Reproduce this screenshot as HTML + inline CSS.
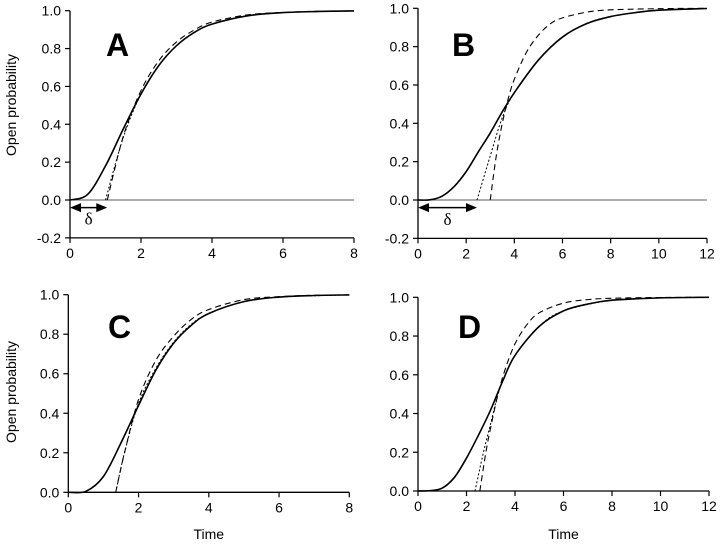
<!DOCTYPE html>
<html><head><meta charset="utf-8">
<style>
body{margin:0;background:#fff;}
svg{display:block;font-family:"Liberation Sans",sans-serif;}
</style></head>
<body>
<svg id="fig" width="720" height="544" viewBox="0 0 720 544"></svg>
<script>
// Panel A data
const aSolidT=[0,0.5,1,1.5,2,2.5,3,3.5,4,5,6,7,8];
const aSolidY=[0,0.03,0.18,0.375,0.56,0.71,0.815,0.885,0.929,0.973,0.99,0.996,0.999];
const aDashT=[1.05,1.5,2,2.5,3,3.5,4,5,6,7,8];
const aDashY=[0,0.336,0.578,0.735,0.835,0.898,0.94,0.978,0.991,0.997,0.999];
const aDotT=[1.0,1.5,2,2.5,3,3.5,4,5,6,8];
const aDotY=[0,0.33,0.56,0.71,0.815,0.885,0.929,0.973,0.99,0.999];
// Panel B data
const bSolidT=[0,0.5,1,1.5,2,2.5,3,3.5,4,5,6,7,8,9,10,12];
const bSolidY=[0,0.001,0.02,0.07,0.148,0.25,0.35,0.46,0.56,0.73,0.85,0.92,0.957,0.977,0.99,0.999];
const bDashT=[3.0,3.25,3.5,3.75,4,4.5,5,5.5,6,7,8,10,12];
const bDashY=[0,0.23,0.4,0.53,0.63,0.77,0.86,0.92,0.95,0.98,0.992,0.998,1];
const bDotT=[2.45,3,3.5,4,5,6,7,8,10,12];
const bDotY=[0,0.23,0.43,0.56,0.73,0.85,0.92,0.957,0.99,0.999];
// Panel C data
const cSolidT=[0,0.5,1,1.5,2,2.5,3,3.5,4,5,6,7,8];
const cSolidY=[0,0.005,0.08,0.25,0.44,0.62,0.755,0.845,0.905,0.965,0.988,0.996,0.999];
const cDashT=[1.35,1.6,2,2.5,3,3.5,4,5,6,7,8];
const cDashY=[0,0.2,0.47,0.67,0.79,0.875,0.925,0.975,0.99,0.997,0.999];
const cDotT=[1.35,1.6,2,2.5,3,3.5,4,5,6,8];
const cDotY=[0,0.2,0.45,0.63,0.76,0.85,0.905,0.965,0.988,0.999];
// Panel D data
const dSolidT=[0,0.5,1,1.5,2,2.5,3,3.5,4,5,6,7,8,10,12];
const dSolidY=[0,0.002,0.015,0.07,0.17,0.29,0.42,0.57,0.7,0.85,0.93,0.965,0.985,0.997,1];
const dDashT=[2.55,2.8,3,3.3,3.6,4,4.5,5,6,7,8,10,12];
const dDashY=[0,0.2,0.33,0.5,0.63,0.76,0.86,0.92,0.97,0.988,0.995,0.999,1];
const dDotT=[2.35,2.7,3,3.3,3.6,4,5,6,8,10,12];
const dDotY=[0,0.2,0.35,0.5,0.6,0.7,0.85,0.93,0.985,0.997,1];
// tick labels
const yTicksAB=[-0.2,0,0.2,0.4,0.6,0.8,1.0];
const yTicksCD=[0,0.2,0.4,0.6,0.8,1.0];
const xTicks8=[0,2,4,6,8];
const xTicks12=[0,2,4,6,8,10,12];

const NS="http://www.w3.org/2000/svg";
const svg=document.getElementById('fig');
function mk(tag,attrs,parent){const e=document.createElementNS(NS,tag);for(const k in attrs)e.setAttribute(k,attrs[k]);(parent||svg).appendChild(e);return e;}
function smooth(pts){
  let d='M'+pts[0][0].toFixed(2)+','+pts[0][1].toFixed(2);
  for(let i=0;i<pts.length-1;i++){
    const p0=pts[Math.max(0,i-1)],p1=pts[i],p2=pts[i+1],p3=pts[Math.min(pts.length-1,i+2)];
    const c1x=p1[0]+(p2[0]-p0[0])/6,c1y=p1[1]+(p2[1]-p0[1])/6;
    const c2x=p2[0]-(p3[0]-p1[0])/6,c2y=p2[1]-(p3[1]-p1[1])/6;
    d+=' C'+c1x.toFixed(2)+','+c1y.toFixed(2)+' '+c2x.toFixed(2)+','+c2y.toFixed(2)+' '+p2[0].toFixed(2)+','+p2[1].toFixed(2);
  }
  return d;
}
function panel(cfg){
  const g=mk('g',{});
  
  
  const sx=t=>cfg.x0+(t/cfg.xmax)*(cfg.x1-cfg.x0);
  const sy=v=>cfg.y0+(v)*(cfg.y1-cfg.y0);
  const ymin=cfg.yticks[0];
  const axisY=sy(ymin);
  if(ymin<0){
    const z=mk('line',{x1:sx(0),x2:sx(cfg.xmax),y1:sy(0),y2:sy(0),stroke:'#222','stroke-width':0.7},g);
    
    
  }
  const ya=mk('line',{x1:sx(0),x2:sx(0),y1:sy(1),y2:axisY,stroke:'#000','stroke-width':1.3},g);
  
  
  const xa=mk('line',{x1:sx(0),x2:sx(cfg.xmax),y1:axisY,y2:axisY,stroke:'#000','stroke-width':1.3},g);
  
  
  cfg.yticks.forEach(v=>{
    mk('line',{x1:sx(0)-5,x2:sx(0),y1:sy(v),y2:sy(v),stroke:'#000','stroke-width':1.2},g);
    const t=mk('text',{x:sx(0)-9,y:sy(v)+5,'text-anchor':'end','font-size':14},g);
    t.textContent=v.toFixed(1);
    
    
  });
  cfg.xticks.forEach(v=>{
    mk('line',{x1:sx(v),x2:sx(v),y1:axisY,y2:axisY+5,stroke:'#000','stroke-width':1.2},g);
    const t=mk('text',{x:sx(v),y:axisY+20,'text-anchor':'middle','font-size':14},g);
    t.textContent=v;
    
    
  });
  const series=[[cfg.dotT,cfg.dotY,'2,2',1,'dotted-curve'],[cfg.dashT,cfg.dashY,'6,4',1.1,'dashed-curve'],[cfg.solidT,cfg.solidY,null,1.6,'solid-curve']];
  series.forEach(s=>{
    const pts=s[0].map((t,i)=>[sx(t),sy(s[1][i])]);
    const a={d:smooth(pts),fill:'none',stroke:'#000','stroke-width':s[3]};
    if(s[2])a['stroke-dasharray']=s[2];
    const p=mk('path',a,g);
    
    
  });
  const L=mk('text',{x:cfg.lx,y:cfg.ly,'font-size':32,'font-weight':'bold'},g);
  L.textContent=cfg.id;
  
  
  if(cfg.ylab){
    const yl=mk('text',{x:0,y:0,'font-size':14,'text-anchor':'middle',transform:'translate(16,'+cfg.ylab+') rotate(-90)'},g);
    yl.textContent='Open probability';
    
    
  }
  if(cfg.xlab){
    const xl=mk('text',{x:(cfg.x0+cfg.x1)/2,y:539,'font-size':14,'text-anchor':'middle'},g);
    xl.textContent='Time';
    
    
  }
  if(cfg.delta!=null){
    const yy=sy(-0.04);
    const ar=mk('g',{},g);
    
    
    const xa0=sx(0),xa1=sx(cfg.delta);
    mk('line',{x1:xa0+8,x2:xa1-8,y1:yy,y2:yy,stroke:'#000','stroke-width':1.5},ar);
    mk('polygon',{points:`${xa0},${yy} ${xa0+11},${yy-4.5} ${xa0+11},${yy+4.5}`,fill:'#000'},ar);
    mk('polygon',{points:`${xa1},${yy} ${xa1-11},${yy-4.5} ${xa1-11},${yy+4.5}`,fill:'#000'},ar);
    const dl=mk('text',{x:(xa0+xa1)/2,y:sy(-0.13),'font-size':17,'text-anchor':'middle','font-family':'"Liberation Serif",serif'},g);
    dl.textContent='δ';
    
    
  }
}
panel({id:'A',x0:70,x1:354,xmax:8,y0:200,y1:10.7,yticks:yTicksAB,xticks:xTicks8,
  solidT:aSolidT,solidY:aSolidY,dashT:aDashT,dashY:aDashY,dotT:aDotT,dotY:aDotY,lx:106,ly:56,ylab:105,delta:1.05});
panel({id:'B',x0:418,x1:707,xmax:12,y0:200,y1:8.3,yticks:yTicksAB,xticks:xTicks12,
  solidT:bSolidT,solidY:bSolidY,dashT:bDashT,dashY:bDashY,dotT:bDotT,dotY:bDotY,lx:452,ly:56,delta:2.45});
panel({id:'C',x0:68.3,x1:349.3,xmax:8,y0:492.3,y1:294.7,yticks:yTicksCD,xticks:xTicks8,
  solidT:cSolidT,solidY:cSolidY,dashT:cDashT,dashY:cDashY,dotT:cDotT,dotY:cDotY,lx:108,ly:338,ylab:392,xlab:true});
panel({id:'D',x0:418,x1:709,xmax:12,y0:491,y1:297.3,yticks:yTicksCD,xticks:xTicks12,
  solidT:dSolidT,solidY:dSolidY,dashT:dDashT,dashY:dDashY,dotT:dDotT,dotY:dDotY,lx:458,ly:338,xlab:true});
</script>
</body></html>
